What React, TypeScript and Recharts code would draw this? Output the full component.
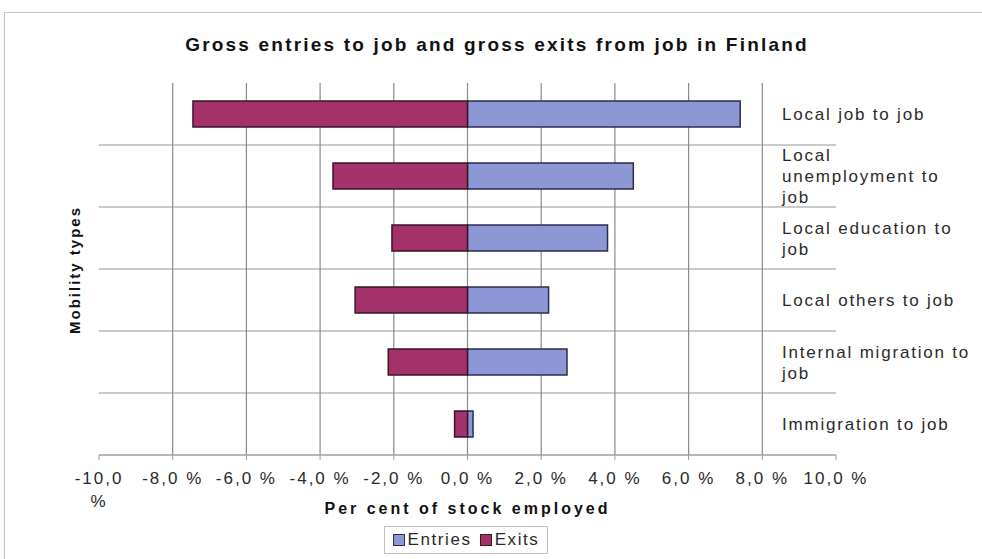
import { BarChart, Bar, XAxis, YAxis, CartesianGrid } from "recharts";

const categories = [
  "Local job to job",
  "Local unemployment to job",
  "Local education to job",
  "Local others to job",
  "Internal migration to job",
  "Immigration to job",
];

// how the category labels break in the original
const labelLines = [
  ["Local job to job"],
  ["Local", "unemployment to", "job"],
  ["Local education to", "job"],
  ["Local others to job"],
  ["Internal migration to", "job"],
  ["Immigration to job"],
];

const entries = [7.4, 4.5, 3.8, 2.2, 2.7, 0.15];
const exits = [-7.45, -3.65, -2.05, -3.05, -2.15, -0.35];

const xTicks = [-10, -8, -6, -4, -2, 0, 2, 4, 6, 8, 10];
const gridTicks = [-8, -6, -4, -2, 0, 2, 4, 6, 8];

const ENTRIES_FILL = "#8e97d6";
const EXITS_FILL = "#a3326a";
const FONT = "'Liberation Sans', Arial, sans-serif";

const data = categories.map((name, i) => ({
  name,
  entries: entries[i],
  exits: exits[i],
}));

function fmtPct(v: number): string {
  return v.toFixed(1).replace(".", ",") + " %";
}

function XTick({ x, y, payload }: any) {
  const v = payload.value as number;
  const lines = v === -10 ? ["-10,0", "%"] : [fmtPct(v)];
  return (
    <text x={x} y={y} textAnchor="middle" fill="#2a2a2a" fontSize={17} fontFamily={FONT} letterSpacing={2}>
      {lines.map((l, i) => (
        <tspan key={i} x={x} dy={i === 0 ? 22 : 23}>
          {l}
        </tspan>
      ))}
    </text>
  );
}

function CatTick({ x, y, payload, index }: any) {
  const lines: string[] = labelLines[index] || [payload.value];
  const startY = y - ((lines.length - 1) * 21) / 2 + 6;
  const tx = x - 62;
  return (
    <text x={tx} y={startY} textAnchor="start" fill="#2a2a2a" fontSize={17} fontFamily={FONT} letterSpacing={1.8}>
      {lines.map((l, i) => (
        <tspan key={i} x={tx} dy={i === 0 ? 0 : 21}>
          {l}
        </tspan>
      ))}
    </text>
  );
}

export default function App() {
  return (
    <div
      style={{
        position: "absolute",
        left: 0,
        top: 0,
        width: 982,
        height: 559,
        background: "#fff",
        overflow: "hidden",
        fontFamily: FONT,
      }}
    >
      <div
        style={{
          position: "absolute",
          left: 4,
          top: 12,
          width: 1000,
          height: 600,
          border: "1px solid #c4c4c4",
        }}
      />
      <div
        style={{
          position: "absolute",
          left: 0,
          width: 994,
          top: 34,
          textAlign: "center",
          fontSize: 19,
          fontWeight: "bold",
          letterSpacing: 2.2,
          color: "#111",
          lineHeight: "22px",
        }}
      >
        Gross entries to job and gross exits from job in Finland
      </div>
      <div
        style={{
          position: "absolute",
          left: 74,
          top: 270,
          transform: "translate(-50%, -50%) rotate(-90deg)",
          whiteSpace: "nowrap",
          fontSize: 15,
          fontWeight: "bold",
          letterSpacing: 2,
          color: "#111",
        }}
      >
        Mobility types
      </div>

      <BarChart
        width={982}
        height={559}
        data={data}
        layout="vertical"
        stackOffset="sign"
        margin={{ top: 83, right: 0, bottom: 0, left: 99 }}
        style={{ position: "absolute", left: 0, top: 0 }}
      >
        <CartesianGrid
          vertical={false}
          stroke="#b8b8b8"
          strokeWidth={1.5}
          horizontalCoordinatesGenerator={({ offset }: any) =>
            categories.map((_, i) => offset.top + ((i + 1) * offset.height) / categories.length)
          }
        />
        <CartesianGrid
          horizontal={false}
          stroke="#8a8a8a"
          strokeWidth={1.2}
          verticalCoordinatesGenerator={({ offset }: any) =>
            gridTicks.map((v) => offset.left + ((v + 10) / 20) * offset.width)
          }
        />
        <XAxis
          type="number"
          domain={[-10, 10]}
          ticks={xTicks}
          height={104}
          axisLine={{ stroke: "#b0b0b0", strokeWidth: 1.5 }}
          tickLine={{ stroke: "#999" }}
          tickSize={5}
          tick={<XTick />}
          interval={0}
          label={{
            value: "Per cent of stock employed",
            position: "insideBottom",
            offset: 45,
            fill: "#111",
            fontSize: 16,
            fontWeight: "bold",
            fontFamily: FONT,
            letterSpacing: 3,
          }}
        />
        <YAxis
          type="category"
          dataKey="name"
          orientation="right"
          width={146}
          axisLine={false}
          tickLine={false}
          tick={<CatTick />}
          interval={0}
        />
        <Bar
          dataKey="entries"
          name="Entries"
          stackId="a"
          barSize={26}
          fill={ENTRIES_FILL}
          stroke="#2c2c4c"
          strokeWidth={1.5}
          isAnimationActive={false}
        />
        <Bar
          dataKey="exits"
          name="Exits"
          stackId="a"
          barSize={26}
          fill={EXITS_FILL}
          stroke="#3a1528"
          strokeWidth={1.5}
          isAnimationActive={false}
        />
      </BarChart>

      <div
        style={{
          position: "absolute",
          left: 384,
          top: 526,
          width: 164,
          height: 28,
          border: "1px solid #c0c0c0",
          display: "flex",
          alignItems: "center",
          justifyContent: "center",
          gap: 8,
          fontSize: 17,
          letterSpacing: 1.6,
          color: "#2a2a2a",
          boxSizing: "border-box",
        }}
      >
        <span style={{ display: "flex", alignItems: "center", gap: 3 }}>
          <span style={{ width: 10, height: 10, background: ENTRIES_FILL, border: "1px solid #2c2c4c" }} />
          Entries
        </span>
        <span style={{ display: "flex", alignItems: "center", gap: 3 }}>
          <span style={{ width: 10, height: 10, background: EXITS_FILL, border: "1px solid #3a1528" }} />
          Exits
        </span>
      </div>
    </div>
  );
}
